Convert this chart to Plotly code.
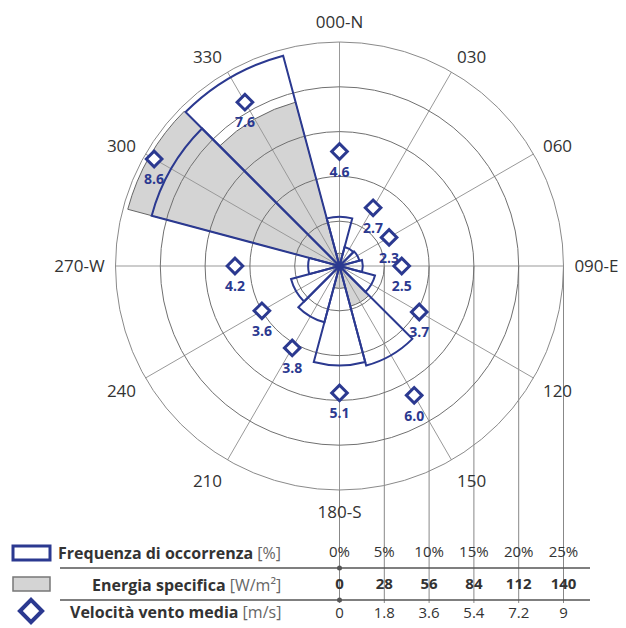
import plotly.graph_objects as go

# ---------------- data ----------------
directions = [0, 30, 60, 90, 120, 150, 180, 210, 240, 270, 300, 330]
direction_labels = ["000-N", "030", "060", "090-E", "120", "150",
                    "180-S", "210", "240", "270-W", "300", "330"]
frequency_pct = [5.5, 2.2, 2.3, 2.6, 4.1, 11.5, 11.1, 6.5, 5.6, 3.5, 21.7, 24.3]
energy_wm2 = [8, 1, 1, 1, 3, 26, 14, 4, 3, 4, 137, 106]
speed_ms = [4.6, 2.7, 2.3, 2.5, 3.7, 6.0, 5.1, 3.8, 3.6, 4.2, 8.6, 7.6]

freq_ticks = [0, 5, 10, 15, 20, 25]
freq_tick_labels = ["0%", "5%", "10%", "15%", "20%", "25%"]
energy_ticks = [0, 28, 56, 84, 112, 140]
speed_ticks = [0, 1.8, 3.6, 5.4, 7.2, 9]
speed_tick_labels = ["0", "1.8", "3.6", "5.4", "7.2", "9"]

row_titles = ["Frequenza di occorrenza", "Energia specifica", "Velocità vento media"]
row_units = ["[%]", "[W/m²]", "[m/s]"]

# ---------------- layout constants (screen pixels) ----------------
VIEW_W, VIEW_H = 626, 628
OFF = 8                      # default page body margin
W, H = VIEW_W - OFF, VIEW_H - OFF
CX, CY, R = 339.5, 266.0, 224.0
FMAX = freq_ticks[-1]
EMAX = energy_ticks[-1]
VMAX = speed_ticks[-1]
BLUE = "#2b3990"
CIRCLE = "#707070"
SPOKE = "#999999"
TXT = "#333333"
FONT = "Open Sans"


def ux(px):
    return (px - CX) / R * FMAX


def uy(py):
    return (CY - py) / R * FMAX


dom_x = [(CX - OFF - R) / W, (CX - OFF + R) / W]
dom_y = [1 - (CY - OFF + R) / H, 1 - (CY - OFF - R) / H]

fig = go.Figure()

# ---- cartesian overlay: guide lines and table ----
gx, gy = [], []
for t in freq_ticks:
    gx += [t, t, None]
    gy += [0, uy(603), None]
fig.add_trace(go.Scatter(x=gx, y=gy, mode="lines", line=dict(color="#888888", width=1),
                         hoverinfo="skip", showlegend=False))
for sy in [568, 600]:
    fig.add_trace(go.Scatter(x=[ux(60), ux(590)], y=[uy(sy), uy(sy)], mode="lines",
                             line=dict(color="#555555", width=1.5),
                             hoverinfo="skip", showlegend=False))
fig.add_trace(go.Scatter(x=[0, 0], y=[uy(568), uy(600)], mode="markers",
                         marker=dict(color="#555555", size=5),
                         hoverinfo="skip", showlegend=False))

fig.add_trace(go.Scatter(x=freq_ticks, y=[uy(553)] * 6, mode="text", text=freq_tick_labels,
                         textfont=dict(family=FONT, size=15, color=TXT),
                         hoverinfo="skip", showlegend=False))
fig.add_trace(go.Scatter(x=freq_ticks, y=[uy(585)] * 6, mode="text",
                         text=[str(v) for v in energy_ticks],
                         textfont=dict(family=FONT, size=15, color=TXT, weight="bold"),
                         hoverinfo="skip", showlegend=False))
fig.add_trace(go.Scatter(x=freq_ticks, y=[uy(614)] * 6, mode="text", text=speed_tick_labels,
                         textfont=dict(family=FONT, size=15, color=TXT),
                         hoverinfo="skip", showlegend=False))

# legend diamond
fig.add_trace(go.Scatter(x=[ux(31)], y=[uy(611)], mode="markers",
                         marker=dict(symbol="diamond", size=17, color="white",
                                     line=dict(color=BLUE, width=4)),
                         hoverinfo="skip", showlegend=False))

# ---- polar: energy (gray) ----
fig.add_trace(go.Barpolar(r=energy_wm2, theta=directions, width=[30] * 12,
                          marker=dict(color="#d4d4d4", line=dict(color="#666666", width=1)),
                          subplot="polar", showlegend=False, hoverinfo="skip"))
# ---- polar2: frequency (blue outlines) ----
fig.add_trace(go.Barpolar(r=frequency_pct, theta=directions, width=[30] * 12,
                          marker=dict(color="rgba(0,0,0,0)", line=dict(color=BLUE, width=2)),
                          subplot="polar2", showlegend=False, hoverinfo="skip"))
# ---- polar3: speed (diamonds + labels) ----
fig.add_trace(go.Scatterpolar(r=speed_ms, theta=directions, mode="markers+text",
                              text=[f"{v:.1f}" for v in speed_ms],
                              textposition="bottom center",
                              textfont=dict(family=FONT, size=14, color=BLUE, weight="bold"),
                              marker=dict(symbol="diamond", size=22, color="rgba(0,0,0,0)",
                                          line=dict(width=0)),
                              subplot="polar3", showlegend=False, hoverinfo="skip"))
fig.add_trace(go.Scatterpolar(r=speed_ms, theta=directions, mode="markers",
                              marker=dict(symbol="diamond", size=12, color="white",
                                          line=dict(color=BLUE, width=3)),
                              subplot="polar3", showlegend=False, hoverinfo="skip"))

hidden_ang = dict(visible=False, direction="clockwise", rotation=90)

fig.update_layout(
    width=W, height=H,
    margin=dict(l=0, r=0, t=0, b=0),
    paper_bgcolor="white", plot_bgcolor="rgba(0,0,0,0)",
    xaxis=dict(domain=[0, 1], range=[ux(OFF), ux(OFF + W)], visible=False, fixedrange=True),
    yaxis=dict(domain=[0, 1], range=[uy(OFF + H), uy(OFF)], visible=False, fixedrange=True),
    polar=dict(domain=dict(x=dom_x, y=dom_y), bgcolor="rgba(0,0,0,0)", bargap=0,
               radialaxis=dict(range=[0, EMAX], visible=False),
               angularaxis=hidden_ang),
    polar2=dict(domain=dict(x=dom_x, y=dom_y), bgcolor="rgba(0,0,0,0)", bargap=0,
                radialaxis=dict(range=[0, FMAX], tickvals=freq_ticks[1:-1],
                                showticklabels=False, ticks="", showline=False,
                                gridcolor=CIRCLE, gridwidth=1),
                angularaxis=dict(direction="clockwise", rotation=90,
                                 tickmode="array", tickvals=directions,
                                 ticktext=direction_labels,
                                 ticks="outside", ticklen=7, tickcolor="rgba(0,0,0,0)",
                                 tickfont=dict(family=FONT, size=17, color=TXT),
                                 showline=True, linecolor="#8a8a8a", linewidth=1,
                                 gridcolor=SPOKE, gridwidth=1)),
    polar3=dict(domain=dict(x=dom_x, y=dom_y), bgcolor="rgba(0,0,0,0)",
                radialaxis=dict(range=[0, VMAX], visible=False),
                angularaxis=hidden_ang),
)

# legend boxes
fig.add_shape(type="rect", xref="x", yref="y", x0=ux(13), x1=ux(50), y0=uy(546), y1=uy(560),
              line=dict(color=BLUE, width=3), fillcolor="white")
fig.add_shape(type="rect", xref="x", yref="y", x0=ux(13), x1=ux(50), y0=uy(577), y1=uy(591),
              line=dict(color="#777777", width=1.5), fillcolor="#d4d4d4")

# row titles
for title, unit, py in zip(row_titles, row_units, [553, 585, 612]):
    fig.add_annotation(x=ux(283), y=uy(py), xref="x", yref="y", xanchor="right",
                       yanchor="middle", showarrow=False,
                       text=f"<b>{title}</b> <span style='color:#666666'>{unit}</span>",
                       font=dict(family=FONT, size=16, color=TXT))

fig.write_html("out.html")
